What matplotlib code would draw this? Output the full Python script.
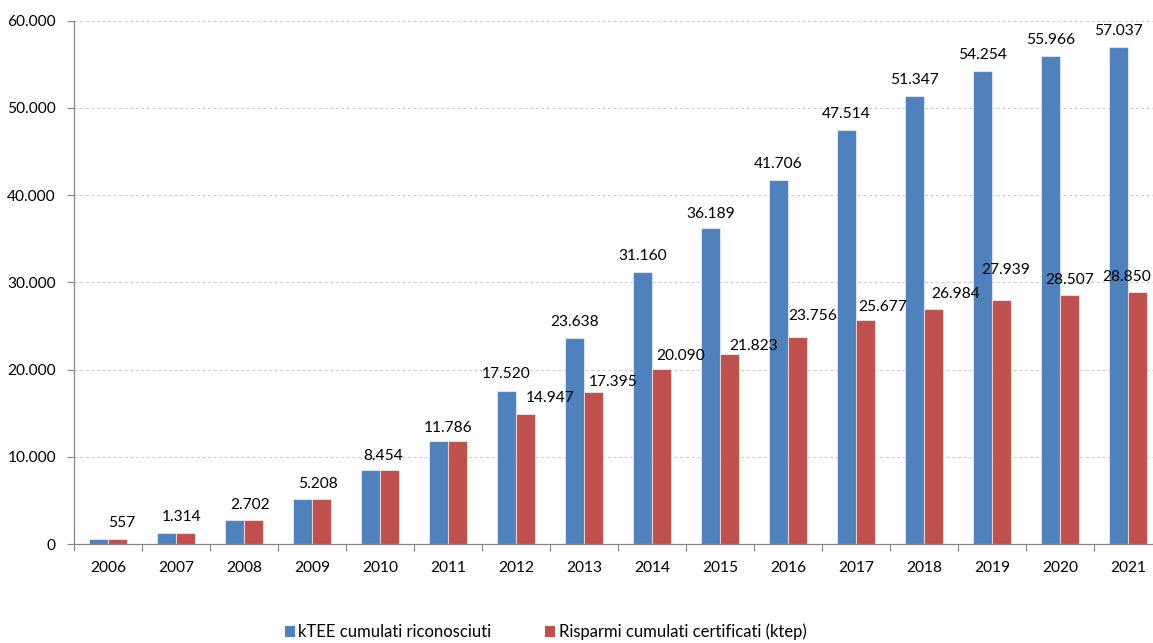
import matplotlib
matplotlib.use("Agg")
import matplotlib.pyplot as plt
from matplotlib.patches import Patch
import numpy as np

# ---- data ----
years = ["2006", "2007", "2008", "2009", "2010", "2011", "2012", "2013",
         "2014", "2015", "2016", "2017", "2018", "2019", "2020", "2021"]
ktee = [557, 1314, 2702, 5208, 8454, 11786, 17520, 23638,
        31160, 36189, 41706, 47514, 51347, 54254, 55966, 57037]
risparmi = [557, 1314, 2702, 5208, 8454, 11786, 14947, 17395,
            20090, 21823, 23756, 25677, 26984, 27939, 28507, 28850]
series_names = ["kTEE cumulati riconosciuti", "Risparmi cumulati certificati (ktep)"]
yticks = [0, 10000, 20000, 30000, 40000, 50000, 60000]

# ---- label placement style (pixels) ----
blue_gap = [16, 16, 15.5, 15, 14, 13, 17, 16, 16.5, 14, 16, 16, 16, 16, 16, 16]
shared_dx = [14, 6, 6, 6, 3, 0]
red_dx = [0, 0, 0, 0, 0, 0, 24, 20, 19, 24, 15, 17, 22, 4, 0, -11]
red_gap = [0, 0, 0, 0, 0, 0, 16, 10.6, 13, 8, 21, 13.4, 15, 30, 15, 15.7]

BLUE = "#4F81BD"
RED = "#C0504D"
FONT = ["Lato", "DejaVu Sans"]
plt.rcParams["font.family"] = FONT
FS = 11.2

W, H = 1153, 643
fig = plt.figure(figsize=(W / 100, H / 100), dpi=100)
left, right, top, bottom = 74, 1162, 20.7, 544
ax = fig.add_axes([left / W, 1 - bottom / H, (right - left) / W, (bottom - top) / H])

x = np.arange(len(years))
bw = 0.285
edge = (1, 1, 1, 0.55)
ax.bar(x - bw / 2, ktee, bw, color=BLUE, edgecolor=edge, linewidth=0.8, zorder=3)
ax.bar(x + bw / 2, risparmi, bw, color=RED, edgecolor=edge, linewidth=0.8, zorder=3)

ax.set_xlim(-0.5, len(years) - 0.5)
ax.set_ylim(0, 60000)

def fmt(v):
    return f"{v:,}".replace(",", ".")

ax.set_yticks(yticks)
ax.set_yticklabels([fmt(v) for v in yticks])
ax.tick_params(axis="y", direction="out", length=5, width=0.8, color="#868686",
               labelsize=FS, pad=8)

ax.set_xticks(np.arange(len(years) + 1) - 0.5)
ax.set_xticklabels([])
ax.set_xticks(x, minor=True)
ax.set_xticklabels(years, minor=True)
ax.tick_params(axis="x", which="major", direction="out", length=5, width=0.8, color="#868686")
ax.tick_params(axis="x", which="minor", length=0, labelsize=FS, pad=12)

for s in ["top", "right"]:
    ax.spines[s].set_visible(False)
for s in ["left", "bottom"]:
    ax.spines[s].set_color("#868686")
    ax.spines[s].set_linewidth(0.9)
    ax.spines[s].set_zorder(4)

for yv in yticks[1:]:
    ax.axhline(yv, color="#d0d0d0", linewidth=0.8, linestyle=(0, (3, 2)), zorder=1)

for i in range(len(years)):
    if ktee[i] == risparmi[i]:
        ax.annotate(fmt(ktee[i]), xy=(x[i], ktee[i]), xytext=(shared_dx[i], blue_gap[i]),
                    textcoords="offset pixels", ha="center", va="center",
                    fontsize=FS, color="black", zorder=5, annotation_clip=False)
    else:
        ax.annotate(fmt(ktee[i]), xy=(x[i] - bw / 2, ktee[i]), xytext=(0, blue_gap[i]),
                    textcoords="offset pixels", ha="center", va="center",
                    fontsize=FS, color="black", zorder=5, annotation_clip=False)
        ax.annotate(fmt(risparmi[i]), xy=(x[i] + bw / 2, risparmi[i]), xytext=(red_dx[i], red_gap[i]),
                    textcoords="offset pixels", ha="center", va="center",
                    fontsize=FS, color="black", zorder=5, annotation_clip=False)

handles = [Patch(facecolor=BLUE, edgecolor="none"), Patch(facecolor=RED, edgecolor="none")]
fig.legend(handles, series_names, loc="center", bbox_to_anchor=(545.5 / W, 1 - 632 / H),
           ncol=2, frameon=False, fontsize=12, handlelength=0.62, handleheight=0.62,
           handletextpad=0.2, columnspacing=3.2, borderpad=0, borderaxespad=0)

fig.savefig("out.png", dpi=100)
